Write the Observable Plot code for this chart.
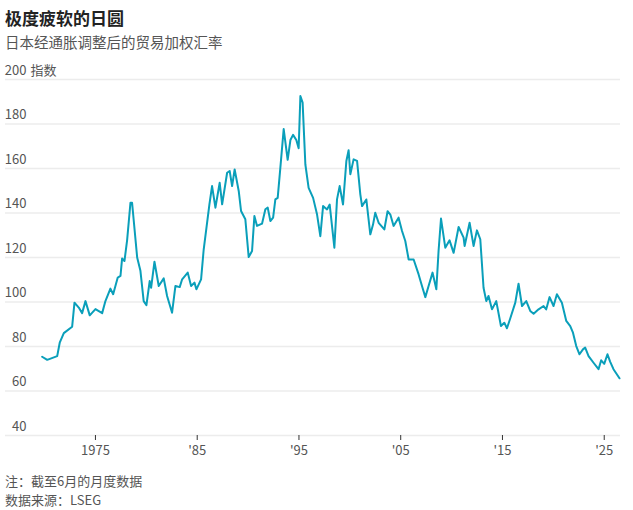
<!DOCTYPE html>
<html>
<head>
<meta charset="utf-8">
<script src="https://cdn.jsdelivr.net/npm/d3@7"></script>
<script src="https://cdn.jsdelivr.net/npm/@observablehq/plot@0.6"></script>
<style>
  body { margin: 0; font-family: "Noto Sans CJK SC", "Noto Sans", sans-serif; background: #fff; }
  #wrap { width: 633px; height: 510px; position: relative; }
  .title { position: absolute; left: 5px; top: 5px; font-size: 17px; font-weight: 700; color: #222; }
  .sub { position: absolute; left: 5px; top: 31px; font-size: 14.5px; color: #555; }
  #chart { position: absolute; left: 0; top: 56px; }
  .note { position: absolute; left: 5px; font-size: 13px; color: #555; }
</style>
</head>
<body>
<div id="wrap">
  <div class="title">极度疲软的日圆</div>
  <div class="sub">日本经通胀调整后的贸易加权汇率</div>
  <div id="chart"></div>
  <div class="note" style="top:471px">注：截至6月的月度数据</div>
  <div class="note" style="top:490px">数据来源：LSEG</div>
</div>
<script>
const years = [1969.76,1970.26,1971.24,1971.49,1971.89,1972.71,1972.94,1973.36,1973.69,1974.02,1974.44,1975.0,1975.66,1975.98,1976.47,1976.74,1977.19,1977.46,1977.62,1977.85,1978.11,1978.44,1978.6,1979.1,1979.42,1979.74,1980.01,1980.33,1980.47,1980.8,1981.22,1981.71,1982.04,1982.53,1982.86,1983.28,1983.52,1984.07,1984.4,1984.73,1984.92,1985.38,1985.64,1985.97,1986.2,1986.46,1986.79,1987.21,1987.45,1987.94,1988.19,1988.43,1988.68,1989.08,1989.31,1989.73,1990.06,1990.39,1990.62,1990.88,1991.37,1991.7,1991.93,1992.19,1992.46,1992.68,1992.91,1993.17,1993.5,1993.89,1994.16,1994.42,1994.74,1994.97,1995.14,1995.36,1995.63,1995.95,1996.39,1996.78,1997.1,1997.37,1997.76,1998.02,1998.48,1998.74,1999.0,1999.33,1999.66,1999.88,2000.05,2000.37,2000.71,2001.03,2001.2,2001.62,2002.01,2002.28,2002.5,2002.83,2003.39,2003.71,2003.98,2004.3,2004.79,2005.13,2005.45,2005.78,2006.27,2006.76,2007.09,2007.42,2007.74,2008.13,2008.5,2008.72,2008.96,2009.38,2009.8,2010.2,2010.69,2011.18,2011.28,2011.77,2012.16,2012.49,2012.82,2013.14,2013.41,2013.63,2013.97,2014.39,2014.85,2015.18,2015.44,2015.77,2016.26,2016.58,2016.92,2017.34,2017.73,2018.06,2018.55,2019.04,2019.3,2019.63,2020.02,2020.35,2020.84,2021.27,2021.66,2021.93,2022.25,2022.57,2022.91,2023.13,2023.46,2023.95,2024.44,2024.7,2025.0,2025.32,2025.59,2025.91,2026.5];
const index = [75.4,74,75.7,81.7,86,88.9,99.7,97.5,95,100.4,94,96.8,95,100.4,106,103.5,111,111.7,119.6,118.4,127.7,144.6,144.6,120,114,100.4,98.6,109.4,106.4,118.1,107.2,110.6,102.7,95.2,107.2,106.7,110.2,113.2,107.2,108.7,105.7,110.2,123.7,135.6,143.9,152.1,142.4,153.6,143.9,158.1,158.9,152.1,159.6,149.9,140.9,137.2,120.2,122.9,138.6,134.2,135.2,141.7,142.4,136.4,137.9,146.1,146.8,160.3,177.7,163.9,172.8,175.1,172.8,169.1,192.6,189.6,161.8,151.3,146.8,139.3,129.6,143.1,141.6,143.8,124.4,146.1,152.1,143.8,163.4,168.2,157.4,164.1,163.4,148.4,143.1,146.1,130.4,134.8,140.1,135.6,132.6,140.8,139.3,134.2,137.9,131.9,127.4,119.1,119.1,112.4,107.2,102.2,107.2,113.2,105.7,122.9,137.5,124.4,127.7,122.1,133.7,128.9,125.2,135.6,125.2,132.2,128.2,106.4,100.4,102.7,96.7,100.4,89.2,90.7,88.2,92.7,99.7,108.2,98.2,100.4,96,94.7,96.7,98.2,96.7,102.2,98.2,103.5,99.7,91.5,89.2,86.2,80.2,76.5,78.7,79.5,75.7,72.7,69.8,73.8,72.2,76.5,73.1,69.8,65.7];
const yTicks = [40,60,80,100,120,140,160,180,200];
const xTicks = [1975,1985,1995,2005,2015,2025];
const xTickLabels = ["1975","'85","'95","'05","'15","'25"];
const xStart = 1966.16, xEnd = 2026.6;

const data = years.map((t, i) => ({t, v: index[i]}));

const chart = Plot.plot({
  width: 633,
  height: 409,
  marginLeft: 5,
  marginRight: 13,
  marginTop: 23,
  marginBottom: 30,
  style: {fontFamily: "'Noto Sans CJK SC', 'Noto Sans', sans-serif", fontSize: "13px", color: "#555", background: "#fff"},
  x: {domain: [xStart, xEnd], label: null},
  y: {domain: [40, 200], axis: null},
  marks: [
    Plot.ruleY(yTicks, {stroke: "#ececec", strokeWidth: 1.5}),
    Plot.text(yTicks, {x: xStart, y: d => d, text: d => String(d), textAnchor: "end", dx: 21, dy: -9, fill: "#555"}),
    Plot.text([200], {x: xStart, y: d => d, text: () => "指数", textAnchor: "start", dx: 25, dy: -9, fill: "#555"}),
    Plot.axisX(xTicks, {tickFormat: d => xTickLabels[xTicks.indexOf(d)], label: null, tickSize: 5, tickPadding: 5, stroke: "#333", fill: "#555", fontSize: 13}),
    Plot.line(data, {x: "t", y: "v", stroke: "#0a9fba", strokeWidth: 2})
  ]
});
document.getElementById("chart").append(chart);
</script>
</body>
</html>
